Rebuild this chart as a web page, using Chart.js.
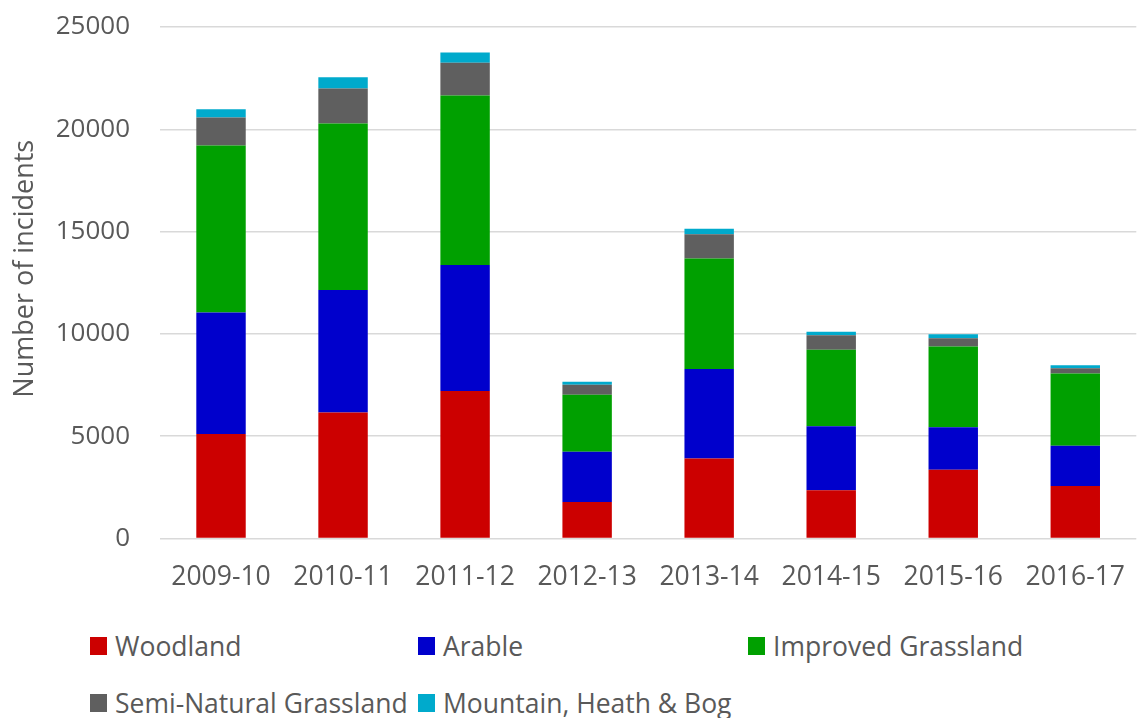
<!DOCTYPE html>
<html>
<head>
<meta charset="utf-8">
<script src="https://cdn.jsdelivr.net/npm/chart.js@4/dist/chart.umd.min.js"></script>
<style>
  html, body { margin: 0; padding: 0; background: #fff; overflow: hidden; }
  #wrap { position: relative; width: 1142px; height: 718px; overflow: hidden; }
  #chart { position: absolute; left: 0; top: 0; }
  .leg { position: absolute; display: flex; align-items: center; height: 40px;
         font-family: "Open Sans", sans-serif; font-size: 26.5px; color: #595959; white-space: nowrap; }
  .leg span.box { display: inline-block; width: 17px; height: 18px; margin-right: 8px; }
</style>
</head>
<body>
<div id="wrap">
  <canvas id="chart" width="1148" height="600"></canvas>
  <div id="legend"></div>
</div>
<script>
// Danh mục theo năm
const years = ["2009-10", "2010-11", "2011-12", "2012-13", "2013-14", "2014-15", "2015-16", "2016-17"];

// Số vụ theo loại đất
const woodland = [5110, 6160, 7210, 1790, 3910, 2360, 3360, 2570];
const arable = [5940, 5990, 6160, 2450, 4380, 3130, 2080, 1960];
const improvedGrassland = [8160, 8130, 8280, 2780, 5400, 3730, 3940, 3530];
const semiNaturalGrassland = [1370, 1710, 1600, 490, 1180, 710, 410, 260];
const mountainHeathBog = [400, 560, 500, 150, 270, 180, 190, 150];

const yTicks = [0, 5000, 10000, 15000, 20000, 25000];

const textColor = "#595959";
const gridColor = "#D9D9D9";
const fontFamily = "'Open Sans', sans-serif";

const series = [
    { label: "Woodland", data: woodland, color: "#CC0000" },
    { label: "Arable", data: arable, color: "#0000CC" },
    { label: "Improved Grassland", data: improvedGrassland, color: "#00A000" },
    { label: "Semi-Natural Grassland", data: semiNaturalGrassland, color: "#5F5F5F" },
    { label: "Mountain, Heath & Bog", data: mountainHeathBog, color: "#00AACC" }
];

const ctx = document.getElementById("chart").getContext("2d");
const chart = new Chart(ctx, {
    type: "bar",
    data: {
        labels: years,
        datasets: series.map(s => ({
            label: s.label,
            data: s.data,
            backgroundColor: s.color,
            borderWidth: 0,
            barPercentage: 0.405,
            categoryPercentage: 1
        }))
    },
    options: {
        responsive: false,
        animation: false,
        layout: { padding: { top: 27, right: 0, left: 0, bottom: 0 } },
        plugins: {
            legend: { display: false },
            tooltip: { enabled: false }
        },
        scales: {
            x: {
                stacked: true,
                grid: { display: false, drawTicks: false },
                border: { display: false },
                ticks: {
                    color: textColor,
                    font: { family: fontFamily, size: 26.5 },
                    padding: 23,
                    maxRotation: 0
                },
                afterFit: scale => { scale.height = 61.5; }
            },
            y: {
                stacked: true,
                min: 0,
                max: 25000,
                afterBuildTicks: scale => { scale.ticks = yTicks.map(v => ({ value: v })); },
                grid: { color: gridColor, lineWidth: 1.5, drawTicks: false },
                border: { display: false },
                ticks: {
                    color: textColor,
                    font: { family: fontFamily, size: 26 },
                    padding: 30,
                    callback: v => String(v)
                },
                title: {
                    display: true,
                    // khoảng trắng đầu để đẩy tiêu đề lên như bản gốc
                    text: "\u00a0\u00a0\u00a0\u00a0Number of incidents",
                    color: textColor,
                    font: { family: fontFamily, size: 27 },
                    padding: { top: 9, bottom: 0 }
                },
                afterFit: scale => {
                    scale.width = 160;
                    scale.paddingTop = 0;
                    scale.paddingBottom = 0;
                }
            }
        }
    }
});

// Chú thích dạng lưới giống bản gốc
const legendPos = [
    { left: 90, top: 626 },
    { left: 418, top: 626 },
    { left: 748, top: 626 },
    { left: 90, top: 683 },
    { left: 418, top: 683 }
];
const legendEl = document.getElementById("legend");
chart.data.datasets.forEach((ds, i) => {
    const item = document.createElement("div");
    item.className = "leg";
    item.style.left = legendPos[i].left + "px";
    item.style.top = legendPos[i].top + "px";
    const box = document.createElement("span");
    box.className = "box";
    box.style.background = ds.backgroundColor;
    item.appendChild(box);
    item.appendChild(document.createTextNode(ds.label));
    legendEl.appendChild(item);
});
</script>
</body>
</html>
